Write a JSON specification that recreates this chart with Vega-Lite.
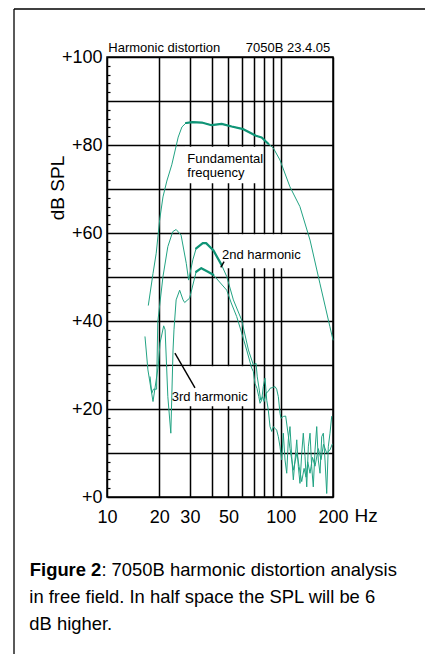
{
  "$schema": "https://vega.github.io/schema/vega-lite/v6.json",
  "width": 226,
  "height": 440,
  "autosize": {"type": "none"},
  "padding": {"left": 107, "top": 57, "right": 92, "bottom": 157},
  "background": "white",
  "config": {
    "font": "Liberation Sans",
    "view": {"stroke": "black", "strokeWidth": 1.5},
    "axis": {"labelFont": "Liberation Sans", "titleFont": "Liberation Sans", "labelColor": "black", "titleColor": "black", "gridColor": "black", "domainColor": "black", "tickColor": "black"},
    "text": {"font": "Liberation Sans"}
  },
  "title": {
    "text": ["in free field. In half space the SPL will be 6", "dB higher."],
    "orient": "bottom",
    "anchor": "start",
    "frame": "group",
    "dx": -77.7,
    "offset": -55,
    "baseline": "alphabetic",
    "fontSize": 18.4,
    "fontWeight": "normal",
    "font": "Liberation Sans",
    "lineHeight": 27,
    "color": "black"
  },
  "datasets": {
    "curves": [
      {"series": "Fundamental", "hz": 17.3, "db": 43.6},
      {"series": "Fundamental", "hz": 18.4, "db": 50.8},
      {"series": "Fundamental", "hz": 19.2, "db": 55.4},
      {"series": "Fundamental", "hz": 20.1, "db": 63.0},
      {"series": "Fundamental", "hz": 21.0, "db": 68.2},
      {"series": "Fundamental", "hz": 22.1, "db": 71.8},
      {"series": "Fundamental", "hz": 23.6, "db": 75.5},
      {"series": "Fundamental", "hz": 25.7, "db": 81.8},
      {"series": "Fundamental", "hz": 27.0, "db": 84.1},
      {"series": "Fundamental", "hz": 28.5, "db": 85.0},
      {"series": "Fundamental", "hz": 31.0, "db": 85.2},
      {"series": "Fundamental", "hz": 35.1, "db": 85.1},
      {"series": "Fundamental", "hz": 40.0, "db": 84.5},
      {"series": "Fundamental", "hz": 45.7, "db": 84.8},
      {"series": "Fundamental", "hz": 52.2, "db": 84.2},
      {"series": "Fundamental", "hz": 60.9, "db": 83.6},
      {"series": "Fundamental", "hz": 72.0, "db": 82.1},
      {"series": "Fundamental", "hz": 77.7, "db": 81.7},
      {"series": "Fundamental", "hz": 84.8, "db": 80.3},
      {"series": "Fundamental", "hz": 90.7, "db": 79.3},
      {"series": "Fundamental", "hz": 99.0, "db": 76.6},
      {"series": "Fundamental", "hz": 113.0, "db": 70.5},
      {"series": "Fundamental", "hz": 129.0, "db": 66.0},
      {"series": "Fundamental", "hz": 147.5, "db": 58.4},
      {"series": "Fundamental", "hz": 168.0, "db": 48.6},
      {"series": "Fundamental", "hz": 192.0, "db": 38.7},
      {"series": "Fundamental", "hz": 200.0, "db": 35.7},

      {"series": "2nd harmonic", "hz": 17.7, "db": 27.3},
      {"series": "2nd harmonic", "hz": 18.1, "db": 23.6},
      {"series": "2nd harmonic", "hz": 18.5, "db": 24.5},
      {"series": "2nd harmonic", "hz": 19.3, "db": 24.5},
      {"series": "2nd harmonic", "hz": 19.6, "db": 39.8},
      {"series": "2nd harmonic", "hz": 21.0, "db": 50.1},
      {"series": "2nd harmonic", "hz": 22.4, "db": 56.9},
      {"series": "2nd harmonic", "hz": 23.9, "db": 60.3},
      {"series": "2nd harmonic", "hz": 25.0, "db": 60.8},
      {"series": "2nd harmonic", "hz": 26.7, "db": 59.5},
      {"series": "2nd harmonic", "hz": 28.6, "db": 53.1},
      {"series": "2nd harmonic", "hz": 29.5, "db": 49.3},
      {"series": "2nd harmonic", "hz": 31.2, "db": 53.9},
      {"series": "2nd harmonic", "hz": 32.6, "db": 56.5},
      {"series": "2nd harmonic", "hz": 35.6, "db": 57.7},
      {"series": "2nd harmonic", "hz": 37.2, "db": 57.7},
      {"series": "2nd harmonic", "hz": 40.9, "db": 56.1},
      {"series": "2nd harmonic", "hz": 45.7, "db": 52.7},
      {"series": "2nd harmonic", "hz": 48.9, "db": 50.1},
      {"series": "2nd harmonic", "hz": 53.4, "db": 44.8},
      {"series": "2nd harmonic", "hz": 59.6, "db": 40.2},
      {"series": "2nd harmonic", "hz": 65.2, "db": 33.4},
      {"series": "2nd harmonic", "hz": 69.6, "db": 30.0},
      {"series": "2nd harmonic", "hz": 72.1, "db": 30.4},
      {"series": "2nd harmonic", "hz": 73.3, "db": 27.3},
      {"series": "2nd harmonic", "hz": 75.3, "db": 24.3},
      {"series": "2nd harmonic", "hz": 76.7, "db": 22.0},
      {"series": "2nd harmonic", "hz": 78.7, "db": 22.8},
      {"series": "2nd harmonic", "hz": 80.2, "db": 21.7},
      {"series": "2nd harmonic", "hz": 82.3, "db": 23.6},
      {"series": "2nd harmonic", "hz": 84.8, "db": 24.0},
      {"series": "2nd harmonic", "hz": 86.8, "db": 24.7},
      {"series": "2nd harmonic", "hz": 90.0, "db": 24.9},
      {"series": "2nd harmonic", "hz": 92.7, "db": 25.1},
      {"series": "2nd harmonic", "hz": 94.8, "db": 24.5},
      {"series": "2nd harmonic", "hz": 96.9, "db": 22.8},
      {"series": "2nd harmonic", "hz": 99.1, "db": 19.0},
      {"series": "2nd harmonic", "hz": 100.4, "db": 17.9},
      {"series": "2nd harmonic", "hz": 103.5, "db": 18.3},
      {"series": "2nd harmonic", "hz": 106.8, "db": 18.4},
      {"series": "2nd harmonic", "hz": 110.6, "db": 14.0},
      {"series": "2nd harmonic", "hz": 113.1, "db": 11.0},
      {"series": "2nd harmonic", "hz": 115.7, "db": 8.5},
      {"series": "2nd harmonic", "hz": 118.2, "db": 6.1},
      {"series": "2nd harmonic", "hz": 120.9, "db": 8.0},
      {"series": "2nd harmonic", "hz": 124.0, "db": 10.0},
      {"series": "2nd harmonic", "hz": 127.5, "db": 7.0},
      {"series": "2nd harmonic", "hz": 132.1, "db": 3.5},
      {"series": "2nd harmonic", "hz": 136.3, "db": 6.5},
      {"series": "2nd harmonic", "hz": 140.0, "db": 4.5},
      {"series": "2nd harmonic", "hz": 143.0, "db": 8.0},
      {"series": "2nd harmonic", "hz": 147.5, "db": 5.4},
      {"series": "2nd harmonic", "hz": 152.4, "db": 9.0},
      {"series": "2nd harmonic", "hz": 157.6, "db": 7.0},
      {"series": "2nd harmonic", "hz": 164.6, "db": 11.0},
      {"series": "2nd harmonic", "hz": 170.7, "db": 8.5},
      {"series": "2nd harmonic", "hz": 176.3, "db": 12.0},
      {"series": "2nd harmonic", "hz": 184.0, "db": 10.0},
      {"series": "2nd harmonic", "hz": 192.2, "db": 10.7},
      {"series": "2nd harmonic", "hz": 198.0, "db": 12.0},

      {"series": "3rd harmonic", "hz": 16.55, "db": 36.4},
      {"series": "3rd harmonic", "hz": 17.2, "db": 28.9},
      {"series": "3rd harmonic", "hz": 18.4, "db": 21.7},
      {"series": "3rd harmonic", "hz": 19.7, "db": 29.6},
      {"series": "3rd harmonic", "hz": 20.2, "db": 35.0},
      {"series": "3rd harmonic", "hz": 21.2, "db": 38.9},
      {"series": "3rd harmonic", "hz": 21.6, "db": 38.0},
      {"series": "3rd harmonic", "hz": 22.4, "db": 22.8},
      {"series": "3rd harmonic", "hz": 23.3, "db": 14.5},
      {"series": "3rd harmonic", "hz": 24.0, "db": 33.4},
      {"series": "3rd harmonic", "hz": 24.3, "db": 38.0},
      {"series": "3rd harmonic", "hz": 25.0, "db": 44.8},
      {"series": "3rd harmonic", "hz": 26.2, "db": 47.0},
      {"series": "3rd harmonic", "hz": 27.4, "db": 44.8},
      {"series": "3rd harmonic", "hz": 28.0, "db": 44.2},
      {"series": "3rd harmonic", "hz": 29.9, "db": 45.2},
      {"series": "3rd harmonic", "hz": 32.6, "db": 51.2},
      {"series": "3rd harmonic", "hz": 34.9, "db": 52.0},
      {"series": "3rd harmonic", "hz": 38.1, "db": 51.2},
      {"series": "3rd harmonic", "hz": 40.9, "db": 50.5},
      {"series": "3rd harmonic", "hz": 48.9, "db": 47.0},
      {"series": "3rd harmonic", "hz": 51.9, "db": 44.1},
      {"series": "3rd harmonic", "hz": 55.8, "db": 41.0},
      {"series": "3rd harmonic", "hz": 59.6, "db": 37.3},
      {"series": "3rd harmonic", "hz": 63.7, "db": 33.4},
      {"series": "3rd harmonic", "hz": 68.1, "db": 29.3},
      {"series": "3rd harmonic", "hz": 69.6, "db": 28.5},
      {"series": "3rd harmonic", "hz": 71.1, "db": 25.8},
      {"series": "3rd harmonic", "hz": 73.0, "db": 24.7},
      {"series": "3rd harmonic", "hz": 74.8, "db": 22.8},
      {"series": "3rd harmonic", "hz": 76.0, "db": 21.3},
      {"series": "3rd harmonic", "hz": 77.7, "db": 22.0},
      {"series": "3rd harmonic", "hz": 79.4, "db": 25.1},
      {"series": "3rd harmonic", "hz": 81.2, "db": 27.0},
      {"series": "3rd harmonic", "hz": 83.1, "db": 22.0},
      {"series": "3rd harmonic", "hz": 84.8, "db": 19.8},
      {"series": "3rd harmonic", "hz": 86.8, "db": 16.0},
      {"series": "3rd harmonic", "hz": 88.8, "db": 14.9},
      {"series": "3rd harmonic", "hz": 90.7, "db": 16.0},
      {"series": "3rd harmonic", "hz": 92.7, "db": 15.6},
      {"series": "3rd harmonic", "hz": 94.8, "db": 15.2},
      {"series": "3rd harmonic", "hz": 96.9, "db": 13.7},
      {"series": "3rd harmonic", "hz": 99.1, "db": 11.4},
      {"series": "3rd harmonic", "hz": 101.3, "db": 8.4},
      {"series": "3rd harmonic", "hz": 103.5, "db": 14.5},
      {"series": "3rd harmonic", "hz": 105.9, "db": 8.4},
      {"series": "3rd harmonic", "hz": 108.3, "db": 5.4},
      {"series": "3rd harmonic", "hz": 110.6, "db": 13.0},
      {"series": "3rd harmonic", "hz": 113.1, "db": 16.0},
      {"series": "3rd harmonic", "hz": 115.7, "db": 9.2},
      {"series": "3rd harmonic", "hz": 118.2, "db": 3.9},
      {"series": "3rd harmonic", "hz": 120.9, "db": 8.4},
      {"series": "3rd harmonic", "hz": 123.7, "db": 13.0},
      {"series": "3rd harmonic", "hz": 126.3, "db": 6.9},
      {"series": "3rd harmonic", "hz": 129.1, "db": 3.1},
      {"series": "3rd harmonic", "hz": 132.1, "db": 9.9},
      {"series": "3rd harmonic", "hz": 134.9, "db": 14.5},
      {"series": "3rd harmonic", "hz": 138.0, "db": 9.2},
      {"series": "3rd harmonic", "hz": 141.2, "db": 2.3},
      {"series": "3rd harmonic", "hz": 144.2, "db": 11.4},
      {"series": "3rd harmonic", "hz": 147.5, "db": 14.5},
      {"series": "3rd harmonic", "hz": 150.8, "db": 6.9},
      {"series": "3rd harmonic", "hz": 154.0, "db": 2.3},
      {"series": "3rd harmonic", "hz": 157.6, "db": 10.7},
      {"series": "3rd harmonic", "hz": 161.2, "db": 16.0},
      {"series": "3rd harmonic", "hz": 164.6, "db": 8.4},
      {"series": "3rd harmonic", "hz": 168.4, "db": 5.4},
      {"series": "3rd harmonic", "hz": 172.2, "db": 13.7},
      {"series": "3rd harmonic", "hz": 175.9, "db": 14.5},
      {"series": "3rd harmonic", "hz": 179.9, "db": 8.4},
      {"series": "3rd harmonic", "hz": 184.0, "db": 0.8},
      {"series": "3rd harmonic", "hz": 187.9, "db": 11.4},
      {"series": "3rd harmonic", "hz": 192.2, "db": 14.5},
      {"series": "3rd harmonic", "hz": 196.6, "db": 18.3}
    ],
    "boxes": [
      {"label": "Fundamental frequency", "x1": 28.1, "x2": 78, "y1": 71.3, "y2": 79.6},
      {"label": "2nd harmonic", "x1": 44.1, "x2": 138, "y1": 52, "y2": 59.7},
      {"label": "3rd harmonic", "x1": 22.6, "x2": 66.5, "y1": 20.6, "y2": 29.7}
    ],
    "pointers": [
      {"label": "3rd harmonic", "x1": 24.6, "x2": 32.1, "y1": 32.7, "y2": 24.8},
      {"label": "2nd harmonic", "x1": 45.2, "x2": 47.2, "y1": 52.2, "y2": 53.5}
    ],
    "labels": [
      {"text": "Fundamental", "hz": 29.0, "db": 75.8},
      {"text": "frequency", "hz": 29.0, "db": 72.8},
      {"text": "2nd harmonic", "hz": 45.9, "db": 54.2},
      {"text": "3rd harmonic", "hz": 23.6, "db": 21.9},
      {"text": "Harmonic distortion", "hz": 10.17, "db": 101.07},
      {"text": "7050B 23.4.05", "hz": 62.9, "db": 101.07}
    ]
  },
  "resolve": {"axis": {"x": "independent", "y": "independent"}},
  "layer": [
    {
      "data": {"name": "boxes"},
      "mark": {"type": "rect", "fill": "white", "stroke": null},
      "encoding": {
        "x": {
          "field": "x1", "type": "quantitative",
          "scale": {"type": "log", "domain": [10, 200], "nice": false},
          "axis": {
            "orient": "bottom",
            "values": [10, 20, 30, 40, 50, 60, 70, 80, 90, 100, 200],
            "format": "d",
            "labelExpr": "indexof([10, 20, 30, 50, 100, 200], datum.value) >= 0 ? datum.label : ''",
            "labelFontSize": 18,
            "labelPadding": 11,
            "labelOverlap": false,
            "labelFlush": false,
            "labelBound": false,
            "ticks": false,
            "domain": false,
            "grid": true,
            "gridWidth": 1.5,
            "gridOpacity": 1,
            "title": "Hz",
            "titleFontSize": 19,
            "titleFontWeight": "normal",
            "titleAngle": 0,
            "titleAlign": "left",
            "titleBaseline": "alphabetic",
            "titleX": 247,
            "titleY": 24.7
          }
        },
        "x2": {"field": "x2"},
        "y": {
          "field": "y1", "type": "quantitative",
          "scale": {"domain": [0, 100], "nice": false, "zero": false},
          "axis": {
            "orient": "left",
            "values": [0, 2, 4, 6, 8, 10, 12, 14, 16, 18, 20, 22, 24, 26, 28, 30, 32, 34, 36, 38, 40, 42, 44, 46, 48, 50, 52, 54, 56, 58, 60, 62, 64, 66, 68, 70, 72, 74, 76, 78, 80, 82, 84, 86, 88, 90, 92, 94, 96, 98, 100],
            "labelExpr": "datum.value % 20 === 0 ? '+' + datum.value : ''",
            "labelFontSize": 18,
            "labelPadding": 8,
            "labelOverlap": false,
            "labelBound": false,
            "tickSize": -3,
            "tickWidth": 1.2,
            "tickOpacity": {"condition": {"test": "datum.value % 10 === 0", "value": 0}, "value": 1},
            "domain": false,
            "grid": true,
            "gridWidth": 1.5,
            "gridOpacity": {"condition": {"test": "datum.value % 10 === 0", "value": 1}, "value": 0},
            "title": "dB SPL",
            "titleFontSize": 19,
            "titleFontWeight": "normal",
            "titleAngle": -90,
            "titleAlign": "center",
            "titleBaseline": "alphabetic",
            "titleX": -43.7,
            "titleY": 130.5
          }
        },
        "y2": {"field": "y2"}
      }
    },
    {
      "data": {"values": [{}]},
      "mark": {"type": "rule", "color": "black", "strokeWidth": 1.3},
      "encoding": {
        "x": {"datum": 2.915, "type": "quantitative", "scale": {"type": "log", "domain": [10, 200], "nice": false}, "axis": null},
        "y": {"datum": -36.5, "type": "quantitative", "scale": {"domain": [0, 100], "nice": false, "zero": false}, "axis": null},
        "y2": {"datum": 110.91}
      }
    },
    {
      "data": {"values": [{}]},
      "mark": {"type": "rule", "color": "black", "strokeWidth": 1.3},
      "encoding": {
        "x": {"datum": 2.915, "type": "quantitative", "scale": {"type": "log", "domain": [10, 200], "nice": false}, "axis": null},
        "x2": {"datum": 1000},
        "y": {"datum": 110.91, "type": "quantitative", "scale": {"domain": [0, 100], "nice": false, "zero": false}, "axis": null}
      }
    },
    {
      "data": {"name": "curves"},
      "mark": {"type": "line", "color": "#22a383", "strokeWidth": 1, "strokeJoin": "round", "strokeCap": "round"},
      "encoding": {
        "x": {"field": "hz", "type": "quantitative", "scale": {"type": "log", "domain": [10, 200], "nice": false}, "axis": null},
        "y": {"field": "db", "type": "quantitative", "scale": {"domain": [0, 100], "nice": false, "zero": false}, "axis": null},
        "detail": {"field": "series"},
        "order": {"field": "hz"}
      }
    },
    {
      "data": {"name": "curves"},
      "transform": [
        {"filter": "(datum.series === 'Fundamental' && datum.hz >= 28.5 && datum.hz <= 84.8) || (datum.series === '2nd harmonic' && datum.hz >= 32.6 && datum.hz <= 45.7) || (datum.series === '3rd harmonic' && datum.hz >= 32.6 && datum.hz <= 40.9)"}
      ],
      "mark": {"type": "line", "color": "#0f9476", "strokeWidth": 2.2, "strokeJoin": "round", "strokeCap": "round"},
      "encoding": {
        "x": {"field": "hz", "type": "quantitative", "scale": {"type": "log", "domain": [10, 200], "nice": false}, "axis": null},
        "y": {"field": "db", "type": "quantitative", "scale": {"domain": [0, 100], "nice": false, "zero": false}, "axis": null},
        "detail": {"field": "series"},
        "order": {"field": "hz"}
      }
    },
    {
      "data": {"name": "pointers"},
      "mark": {"type": "rule", "color": "black", "strokeWidth": 1.4},
      "encoding": {
        "x": {
          "field": "x1", "type": "quantitative",
          "scale": {"type": "log", "domain": [10, 200], "nice": false},
          "axis": {
            "orient": "top", "values": [], "labels": false, "ticks": false, "domain": false, "grid": false,
            "title": ": 7050B harmonic distortion analysis",
            "titleFontSize": 18.4, "titleFontWeight": "normal", "titleAngle": 0,
            "titleAlign": "left", "titleBaseline": "alphabetic",
            "titleX": -6.1, "titleY": 518
          }
        },
        "x2": {"field": "x2"},
        "y": {
          "field": "y1", "type": "quantitative",
          "scale": {"domain": [0, 100], "nice": false, "zero": false},
          "axis": {
            "orient": "right", "values": [], "labels": false, "ticks": false, "domain": false, "grid": false,
            "title": "Figure 2",
            "titleFontSize": 18.4, "titleFontWeight": "bold", "titleAngle": 0,
            "titleAlign": "left", "titleBaseline": "alphabetic",
            "titleX": -303.7, "titleY": 518
          }
        },
        "y2": {"field": "y2"}
      }
    },
    {
      "data": {"name": "labels"},
      "mark": {"type": "text", "align": "left", "baseline": "alphabetic", "fontSize": 13, "color": "black", "font": "Liberation Sans"},
      "encoding": {
        "x": {"field": "hz", "type": "quantitative", "scale": {"type": "log", "domain": [10, 200], "nice": false}, "axis": null},
        "y": {"field": "db", "type": "quantitative", "scale": {"domain": [0, 100], "nice": false, "zero": false}, "axis": null},
        "text": {"field": "text"}
      }
    }
  ]
}
